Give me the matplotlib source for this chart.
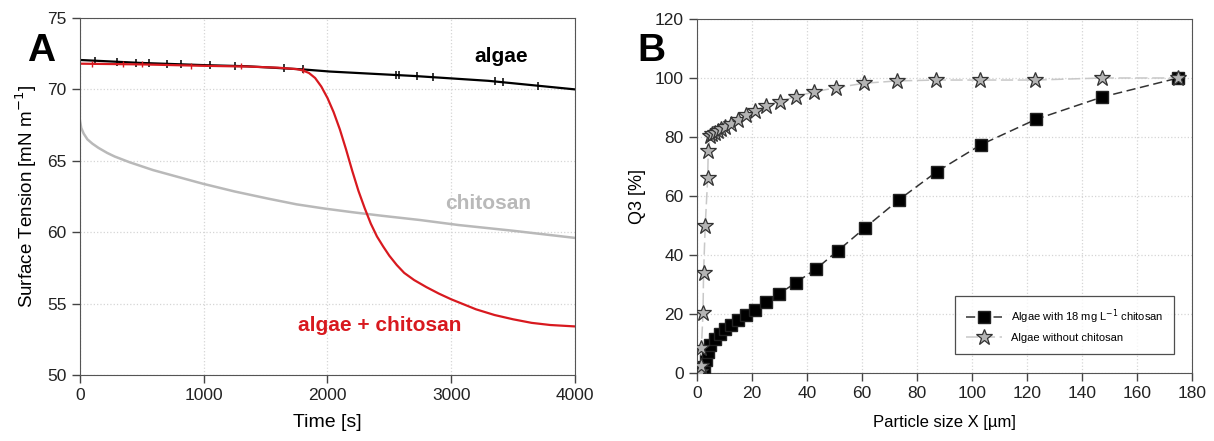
import matplotlib.pyplot as plt
import numpy as np

plt.rcParams.update({
    'font.family': ['Liberation Sans', 'DejaVu Sans'],
    'font.size': 10,
    'axes.edgecolor': '#555555',
    'xtick.color': '#444444',
    'ytick.color': '#444444',
    'xtick.labelcolor': '#222222',
    'ytick.labelcolor': '#222222',
})

# Panel A: surface tension vs time
algae_t = [0, 500, 1000, 1350, 1800, 2020, 2700, 3300, 4000]
algae_v = [72.06, 71.85, 71.7, 71.62, 71.4, 71.25, 70.94, 70.6, 70.0]
algae_spike_t = [120, 300, 450, 560, 700, 820, 1050, 1250, 1650, 1800,
                 2550, 2580, 2720, 2850, 3350, 3420, 3700]

mix_t = [0, 500, 1000, 1350, 1600, 1750, 1800, 1850, 1900, 1950, 2000, 2050,
         2100, 2150, 2200, 2250, 2300, 2350, 2400, 2450, 2500, 2560, 2620, 2700,
         2800, 2900, 3000, 3100, 3200, 3350, 3500, 3650, 3800, 4000]
mix_v = [71.8, 71.75, 71.65, 71.6, 71.52, 71.42, 71.33, 71.15, 70.8, 70.2, 69.4, 68.4,
         67.2, 65.8, 64.3, 62.9, 61.7, 60.6, 59.7, 59.0, 58.35, 57.7, 57.15, 56.65,
         56.15, 55.7, 55.3, 54.95, 54.6, 54.2, 53.9, 53.65, 53.5, 53.4]
mix_spike_t = [100, 350, 500, 900, 1300, 1800]

chit_t = [0, 10, 30, 60, 100, 150, 220, 280, 400, 590, 800, 990, 1250, 1520,
          1750, 1980, 2200, 2440, 2750, 3060, 3500, 4000]
chit_v = [67.8, 67.3, 66.9, 66.5, 66.2, 65.9, 65.55, 65.3, 64.9, 64.35, 63.85, 63.4,
          62.85, 62.35, 61.95, 61.65, 61.4, 61.15, 60.85, 60.5, 60.1, 59.6]

# Panel B: cumulative particle size distribution
sq_x = [1.6, 2.5, 3.2, 4.0, 4.9, 6.5, 8.3, 10.1, 12.3, 14.9, 18.0, 21.1,
        25.2, 29.8, 35.9, 43.3, 51.3, 61.2, 73.4, 87.3, 103.3, 123.3, 147.2, 175.0]
sq_y = [0.1, 1.9, 4.4, 7.2, 9.5, 11.4, 13.2, 14.8, 16.3, 18.0, 19.7, 21.4,
        24.0, 26.8, 30.6, 35.3, 41.5, 49.3, 58.7, 68.3, 77.4, 86.0, 93.5, 100.0]

st_x = [1.0, 1.4, 1.6, 2.2, 2.4, 3.0, 3.9, 4.1, 4.9, 5.6, 6.5, 7.6, 8.9, 10.1,
        12.5, 14.9, 18.0, 21.0, 25.0, 30.1, 35.9, 42.5, 50.7, 60.6, 72.7, 86.8,
        102.8, 123.0, 147.3, 175.0]
st_y = [0.3, 2.4, 8.4, 20.2, 33.8, 49.8, 66.0, 75.2, 80.3, 81.0, 81.5, 82.2, 82.8,
        83.4, 84.5, 85.8, 87.4, 88.9, 90.6, 92.0, 93.7, 95.3, 96.7, 98.2, 99.0,
        99.3, 99.3, 99.3, 100.0, 100.0]

RED = '#d8191f'
GREY = '#b9b9b9'

fig = plt.figure(figsize=(12.14, 4.41), dpi=100)
ax1 = fig.add_axes([0.0659, 0.1497, 0.4077, 0.8095])
ax2 = fig.add_axes([0.5741, 0.154, 0.4077, 0.803])

for ax in (ax1, ax2):
    ax.grid(True, linestyle=':', color='#d5d5d5', linewidth=0.9)
    ax.set_axisbelow(True)
    ax.tick_params(direction='out', length=6, width=1, labelsize=12.5, top=False, right=False)

# --- A ---
ax1.plot(chit_t, chit_v, color=GREY, lw=1.8)
ax1.plot(algae_t, algae_v, color='black', lw=1.6)
ax1.plot(algae_spike_t, np.interp(algae_spike_t, algae_t, algae_v), ls='none',
         marker='|', ms=6, mew=1.1, color='black')
ax1.plot(mix_t, mix_v, color=RED, lw=1.6)
ax1.plot(mix_spike_t, np.interp(mix_spike_t, mix_t, mix_v), ls='none',
         marker='|', ms=5, mew=1.0, color=RED)

ax1.text(3400, 72.3, 'algae', color='black', fontsize=15, fontweight='bold', ha='center', va='center')
ax1.text(3300, 62.0, 'chitosan', color=GREY, fontsize=15, fontweight='bold', ha='center', va='center')
ax1.text(2420, 53.5, 'algae + chitosan', color=RED, fontsize=15, fontweight='bold', ha='center', va='center')

ax1.set_xlim(0, 4000)
ax1.set_ylim(50, 75)
ax1.set_xticks([0, 1000, 2000, 3000, 4000])
ax1.set_yticks([50, 55, 60, 65, 70, 75])
ax1.set_xlabel('Time [s]', fontsize=14, labelpad=8)
ax1.set_ylabel('Surface Tension [mN m$^{-1}$]', fontsize=13.5, labelpad=6)

# --- B ---
ax2.plot(sq_x, sq_y, color='#333333', lw=1.1, ls=(0, (6, 3)), marker='s', ms=8,
         mfc='black', mec='#222222', label='Algae with 18 mg L$^{-1}$ chitosan', zorder=3)
ax2.plot(st_x, st_y, color='#c8c8c8', lw=1.1, ls=(0, (8, 3)), marker='*', ms=12,
         mfc='#b4b4b4', mec='#333333', mew=0.9, label='Algae without chitosan', zorder=4)

ax2.set_xlim(0, 180)
ax2.set_ylim(0, 120)
ax2.set_xticks(range(0, 181, 20))
ax2.set_yticks(range(0, 121, 20))
ax2.set_xlabel('Particle size X [µm]', fontsize=12, labelpad=10)
ax2.set_ylabel('Q3 [%]', fontsize=13, labelpad=6)

leg = ax2.legend(loc='lower right', bbox_to_anchor=(0.964, 0.054), fontsize=8,
                 frameon=True, fancybox=False, edgecolor='#222222', borderpad=1.0,
                 handlelength=3.2, labelspacing=0.6, borderaxespad=0)
leg.get_frame().set_linewidth(0.9)

fig.text(0.022, 0.885, 'A', fontsize=28, fontweight='bold', ha='left', va='center')
fig.text(0.525, 0.885, 'B', fontsize=28, fontweight='bold', ha='left', va='center')

fig.savefig('out.png', dpi=100)
